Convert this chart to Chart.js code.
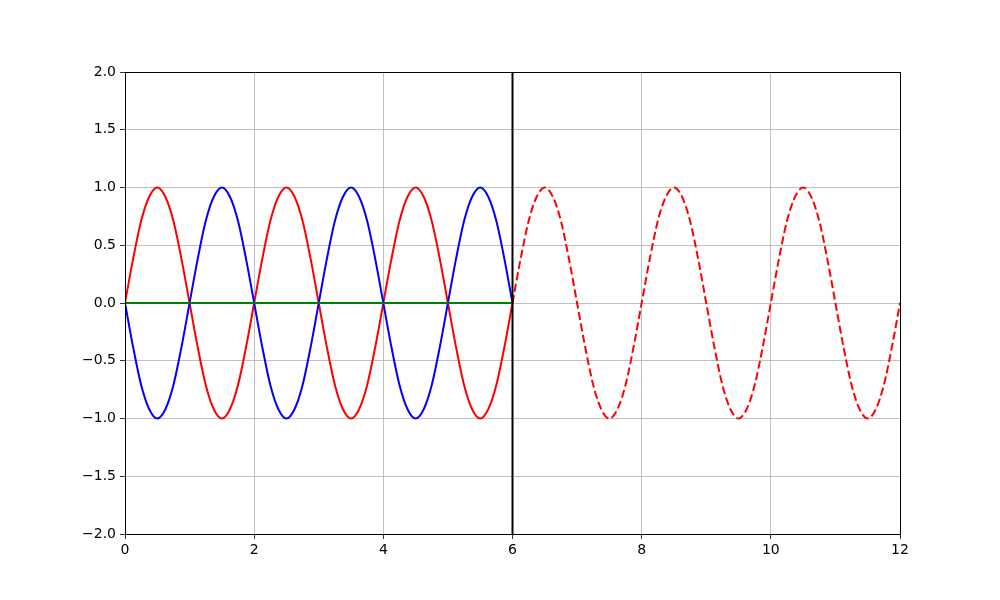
<!DOCTYPE html>
<html>
<head>
<meta charset="utf-8">
<script src="https://cdn.jsdelivr.net/npm/chart.js@4/dist/chart.umd.min.js"></script>
<style>
  body { margin: 0; background: #fff; }
</style>
</head>
<body>
<canvas id="myChart" width="1000" height="600"></canvas>
<script>
let xLeft = [0,0.125,0.25,0.375,0.5,0.625,0.75,0.875,1,1.125,1.25,1.375,1.5,1.625,1.75,1.875,
    2,2.125,2.25,2.375,2.5,2.625,2.75,2.875,3,3.125,3.25,3.375,3.5,3.625,3.75,3.875,
    4,4.125,4.25,4.375,4.5,4.625,4.75,4.875,5,5.125,5.25,5.375,5.5,5.625,5.75,5.875,6];
let xRight = [6,6.125,6.25,6.375,6.5,6.625,6.75,6.875,7,7.125,7.25,7.375,7.5,7.625,7.75,7.875,
    8,8.125,8.25,8.375,8.5,8.625,8.75,8.875,9,9.125,9.25,9.375,9.5,9.625,9.75,9.875,
    10,10.125,10.25,10.375,10.5,10.625,10.75,10.875,11,11.125,11.25,11.375,11.5,11.625,11.75,11.875,12];

let redSolid = [0,0.38,0.71,0.92,1,0.92,0.71,0.38,0,-0.38,-0.71,-0.92,-1,-0.92,-0.71,-0.38,
    0,0.38,0.71,0.92,1,0.92,0.71,0.38,0,-0.38,-0.71,-0.92,-1,-0.92,-0.71,-0.38,
    0,0.38,0.71,0.92,1,0.92,0.71,0.38,0,-0.38,-0.71,-0.92,-1,-0.92,-0.71,-0.38,0];
let blueSolid = [0,-0.38,-0.71,-0.92,-1,-0.92,-0.71,-0.38,0,0.38,0.71,0.92,1,0.92,0.71,0.38,
    0,-0.38,-0.71,-0.92,-1,-0.92,-0.71,-0.38,0,0.38,0.71,0.92,1,0.92,0.71,0.38,
    0,-0.38,-0.71,-0.92,-1,-0.92,-0.71,-0.38,0,0.38,0.71,0.92,1,0.92,0.71,0.38,0];
let redDashed = [0,0.38,0.71,0.92,1,0.92,0.71,0.38,0,-0.38,-0.71,-0.92,-1,-0.92,-0.71,-0.38,
    0,0.38,0.71,0.92,1,0.92,0.71,0.38,0,-0.38,-0.71,-0.92,-1,-0.92,-0.71,-0.38,
    0,0.38,0.71,0.92,1,0.92,0.71,0.38,0,-0.38,-0.71,-0.92,-1,-0.92,-0.71,-0.38,0];

let greenX = [0, 6];
let greenY = [0, 0];
let vlineX = [6, 6];
let vlineY = [-2, 2];

let xTicks = [0, 2, 4, 6, 8, 10, 12];
let yTicks = [-2, -1.5, -1, -0.5, 0, 0.5, 1, 1.5, 2];

const toPoints = (xs, ys) => xs.map((x, i) => ({ x: x, y: ys[i] }));

const lineSet = (xs, ys, color, dash) => ({
    data: toPoints(xs, ys),
    borderColor: color,
    backgroundColor: color,
    borderWidth: 2,
    borderDash: dash || [],
    showLine: true,
    pointRadius: 0,
    fill: false,
    cubicInterpolationMode: 'monotone'
});

/* draws the top and right spines */
const frame = {
    id: 'frame',
    afterDraw(chart) {
        const a = chart.chartArea;
        const ctx = chart.ctx;
        ctx.save();
        ctx.strokeStyle = '#000';
        ctx.lineWidth = 1;
        ctx.strokeRect(Math.round(a.left) + 0.5, Math.round(a.top) + 0.5,
            Math.round(a.right - a.left), Math.round(a.bottom - a.top));
        ctx.restore();
    }
};

const tickFont = { family: 'DejaVu Sans', size: 14 };

// chart.js draws the first dataset on top, so the black line goes first
let config = {
    type: 'scatter',
    data: {
        datasets: [
            lineSet(vlineX, vlineY, '#000000'),
            lineSet(xRight, redDashed, '#ff0000', [8, 3.5]),
            lineSet(greenX, greenY, '#008000'),
            lineSet(xLeft, blueSolid, '#0000ff'),
            lineSet(xLeft, redSolid, '#ff0000')
        ]
    },
    options: {
        responsive: false,
        animation: false,
        devicePixelRatio: 1,
        layout: { padding: { left: 75, right: 100, top: 72, bottom: 36 } },
        plugins: { legend: { display: false }, tooltip: { enabled: false } },
        scales: {
            x: {
                type: 'linear',
                min: 0, max: 12,
                afterFit: (s) => { s.height = 30; },
                afterBuildTicks: (s) => { s.ticks = xTicks.map(v => ({ value: v })); },
                ticks: { color: '#000', font: tickFont, padding: 3, maxRotation: 0,
                    callback: (v) => String(v) },
                grid: { color: '#b0b0b0', lineWidth: 0.8, tickColor: '#000', tickLength: 5 },
                border: { color: '#000', width: 1 }
            },
            y: {
                type: 'linear',
                min: -2, max: 2,
                afterFit: (s) => { s.width = 50; },
                afterBuildTicks: (s) => { s.ticks = yTicks.map(v => ({ value: v })); },
                ticks: { color: '#000', font: tickFont, padding: 4,
                    callback: (v) => v.toFixed(1).replace('-', '\u2212') },
                grid: { color: '#b0b0b0', lineWidth: 0.8, tickColor: '#000', tickLength: 5 },
                border: { color: '#000', width: 1 }
            }
        }
    },
    plugins: [frame]
};

var myChart = new Chart(document.getElementById('myChart').getContext('2d'), config);
</script>
</body>
</html>
